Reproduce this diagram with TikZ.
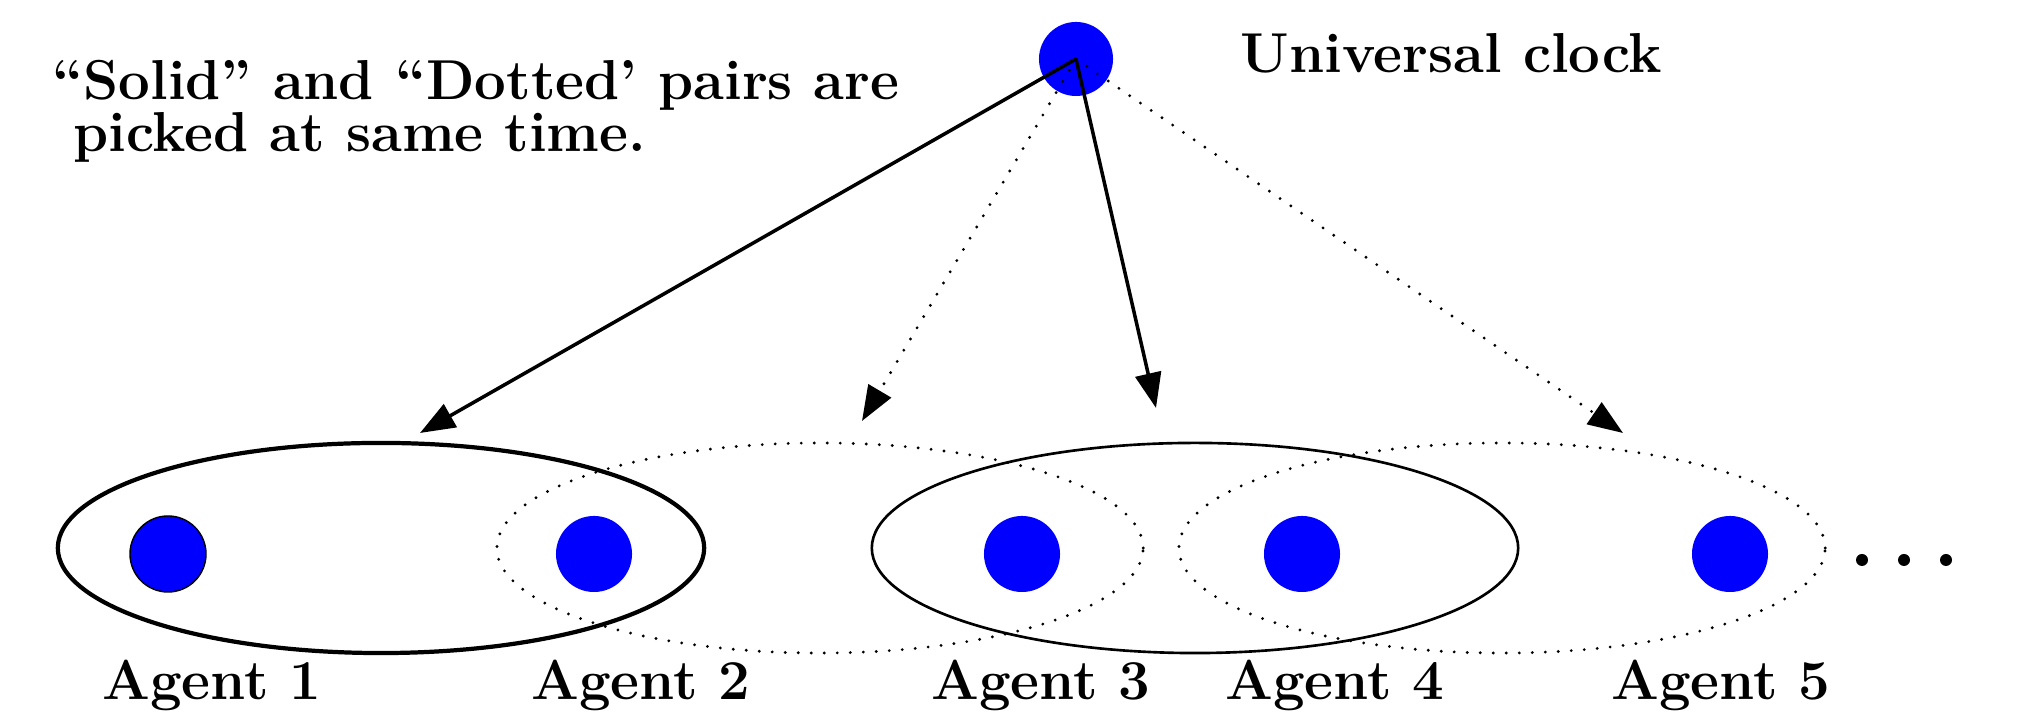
\documentclass[tikz,border=0pt]{standalone}
\usepackage{tikz}
\usetikzlibrary{arrows.meta,shapes.geometric}

\begin{document}
\begin{tikzpicture}[x=0.01cm, y=0.01cm,
  agent/.style={circle, fill=blue, minimum size=0.76cm, inner sep=0pt},
  paire/.style={ellipse, draw, minimum width=6.46cm, minimum height=2.1cm, inner sep=0pt},
  pointille/.style={line width=0.9pt, dash pattern=on 0pt off 3.7pt, line cap=round},
  fleche/.style={-{Triangle[length=3.5mm, width=2.6mm]}},
  etiq/.style={font=\fontsize{16}{14.8}\selectfont\bfseries, inner sep=0pt}]
\useasboundingbox (0,0) rectangle (2017,713);

% Paires d'agents (ellipses)
\node[paire, line width=1.2pt] (p1) at (381,165) {};
\node[paire, pointille] (p2) at (820,165) {};
\node[paire, line width=0.75pt] (p3) at (1195,165) {};
\node[paire, pointille] (p4) at (1502,165) {};

% Agents
\node[agent, draw=black, line width=0.4pt] (a1) at (168,159) {};
\node[agent] (a2) at (594,159) {};
\node[agent] (a3) at (1022,159) {};
\node[agent] (a4) at (1302,159) {};
\node[agent] (a5) at (1730,159) {};

% Points de suspension
\fill (1862,153) circle (6);
\fill (1904,153) circle (6);
\fill (1946,153) circle (6);

% Noms des agents
\node[etiq, anchor=base] (n1) at (212,13) {Agent 1};
\node[etiq, anchor=base] (n2) at (641,13) {Agent 2};
\node[etiq, anchor=base] (n3) at (1041,13) {Agent 3};
\node[etiq, anchor=base] (n4) at (1335,13) {Agent 4};
\node[etiq, anchor=base] (n5) at (1721,13) {Agent 5};

% Horloge universelle
\node[agent, minimum size=0.74cm] (clk) at (1076,654) {};
\node[etiq, anchor=base west] (uc) at (1240,640) {Universal clock};

% Texte
\node[etiq, anchor=base west, align=left] (txt) at (52,561) {``Solid'' and ``Dotted' pairs are\\\ picked at same time.};

% Fleches depuis l'horloge
\coordinate (b1) at (420,280);
\coordinate (b2) at (862,292);
\coordinate (b3) at (1156,305);
\coordinate (b4) at (1623,280);
\draw[fleche, line width=1pt] (clk.center) -- (b1);
\draw[fleche, pointille] (clk.center) -- (b2);
\draw[fleche, line width=1pt] (clk.center) -- (b3);
\draw[fleche, pointille] (clk.center) -- (b4);
\end{tikzpicture}
\end{document}
